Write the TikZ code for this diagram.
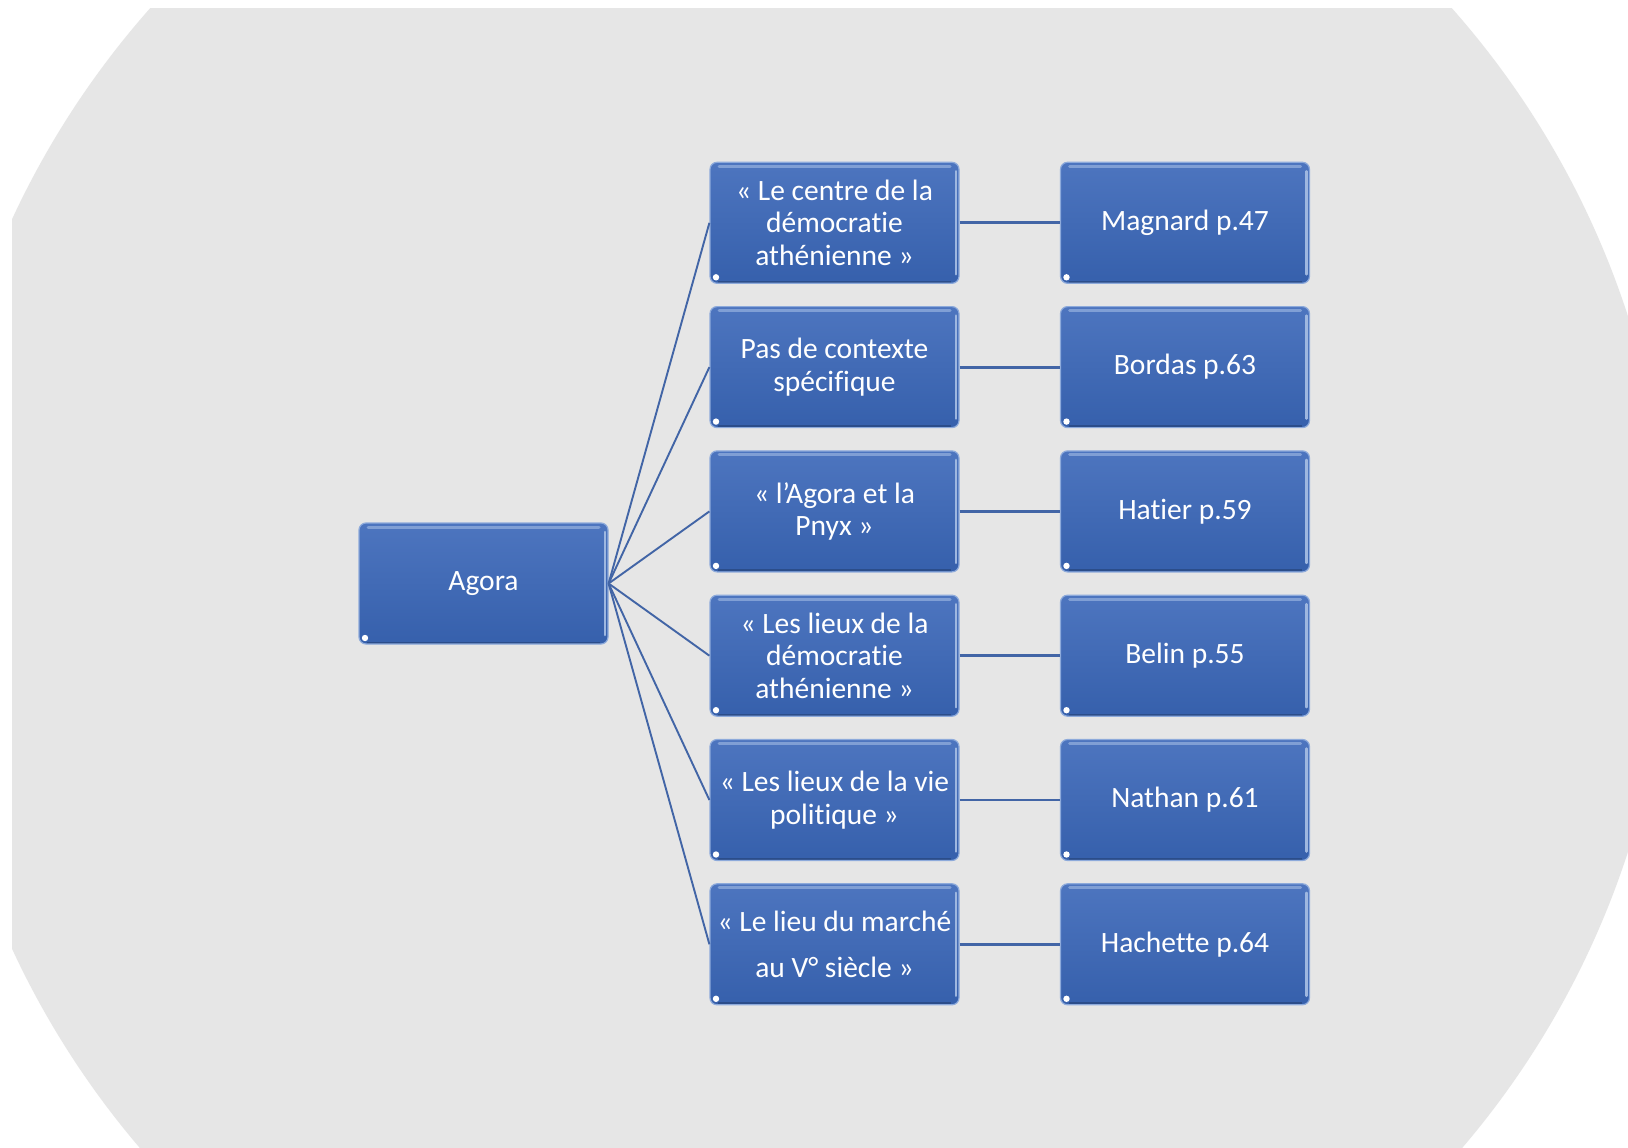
\documentclass[tikz,border=0pt]{standalone}
\usepackage{fontspec}
\setmainfont{Carlito}[Ligatures={NoCommon}]
\definecolor{bggray}{HTML}{E6E6E6}
\definecolor{boxtop}{HTML}{4D75BF}
\definecolor{boxbot}{HTML}{3660AC}
\definecolor{boxedge}{HTML}{8DAADB}
\definecolor{linkc}{HTML}{4265A6}
\begin{document}
\begin{tikzpicture}[x=1pt,y=-1pt,
  card/.style={rectangle, rounded corners=7pt, minimum width=249pt, minimum height=121pt,
    top color=boxtop, bottom color=boxbot, draw=boxedge, line width=1.2pt,
    text=white, font=\fontsize{29.5}{32.5}\selectfont, align=center, inner sep=2pt,
    path picture={
      \draw[boxedge!80!boxtop, line width=3pt, line cap=round]
        ([xshift=9pt,yshift=-4pt]path picture bounding box.north west) --
        ([xshift=-9pt,yshift=-4pt]path picture bounding box.north east);
      \draw[boxedge!85!white, line width=2.5pt, line cap=round]
        ([xshift=-3pt,yshift=-9pt]path picture bounding box.north east) --
        ([xshift=-3pt,yshift=9pt]path picture bounding box.south east);
      \draw[boxbot!80!black, line width=2pt]
        ([xshift=8pt,yshift=1.5pt]path picture bounding box.south west) --
        ([xshift=-8pt,yshift=1.5pt]path picture bounding box.south east);
      \fill[white] ([xshift=6pt,yshift=6pt]path picture bounding box.south west) circle[radius=3.2pt];
    }},
  link/.style={draw=linkc, line width=1.9pt},
  hlink/.style={draw=linkc, line width=2.8pt}
]
\useasboundingbox (0,0) rectangle (1628,1148);
\fill[white] (0,0) rectangle (1628,1148);
\begin{scope}
  \clip (12,9) rectangle (1628,1148);
  \fill[bggray] (801,584) circle[radius=869pt];
\end{scope}

\node[card] (agora) at (483.5,583.5) {Agora};

\node[card] (m1) at (834.5,222.8) {« Le centre de la\\démocratie\\athénienne »};
\node[card] (m2) at (834.5,367.1) {Pas de contexte\\spécifique};
\node[card] (m3) at (834.5,511.4) {« l’Agora et la\\Pnyx »};
\node[card] (m4) at (834.5,655.7) {« Les lieux de la\\démocratie\\athénienne »};
\node[card] (m5) at (834.5,800.0) {« Les lieux de la vie\\politique »};
\node[card] (m6) at (834.5,944.3) {« Le lieu du marché\\[13pt]au V° siècle »};

\node[card] (r1) at (1185,222.8) {Magnard p.47};
\node[card] (r2) at (1185,367.1) {Bordas p.63};
\node[card] (r3) at (1185,511.4) {Hatier p.59};
\node[card] (r4) at (1185,655.7) {Belin p.55};
\node[card] (r5) at (1185,800.0) {Nathan p.61};
\node[card] (r6) at (1185,944.3) {Hachette p.64};

\foreach \i in {1,...,6}{
  \draw[link] (agora.east) -- (m\i.west);
  \draw[hlink] (m\i.east) -- (r\i.west);
}
\end{tikzpicture}
\end{document}
